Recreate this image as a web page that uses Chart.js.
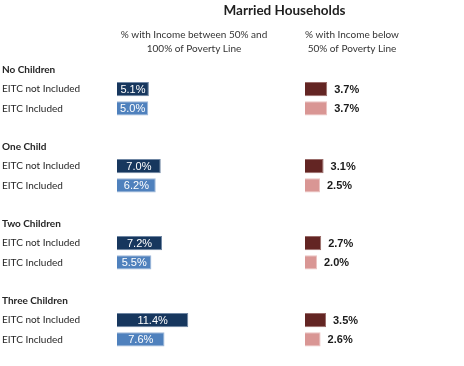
<!DOCTYPE html>
<html>
<head>
<meta charset="utf-8">
<script src="https://cdn.jsdelivr.net/npm/chart.js@4/dist/chart.umd.min.js"></script>
<style>
    html, body { margin: 0; padding: 0; background: #ffffff; }
    canvas { display: block; }
</style>
</head>
<body>
<canvas id="povertyChart" width="464" height="366"></canvas>
<script>
// Chart data
const groups = ['No Children', 'One Child', 'Two Children', 'Three Children'];
const rowLabels = ['EITC not Included', 'EITC Included'];
const between50And100NotIncluded = [5.1, 7.0, 7.2, 11.4];
const between50And100Included = [5.0, 6.2, 5.5, 7.6];
const below50NotIncluded = [3.7, 3.1, 2.7, 3.5];
const below50Included = [3.7, 2.5, 2.0, 2.6];
const columnHeaders = [
    ['% with Income between 50% and', '100% of Poverty Line'],
    ['% with Income below', '50% of Poverty Line']
];

// Build the category rows: group header, two EITC rows, blank spacer
const slotLabels = [];
const headerIndexes = [];
const notIncludedRow = [];
const includedRow = [];
groups.forEach((group, i) => {
    headerIndexes.push(slotLabels.length);
    slotLabels.push(group, rowLabels[0], rowLabels[1]);
    notIncludedRow.push(null, i, null);
    includedRow.push(null, null, i);
    if (i < groups.length - 1) {
        slotLabels.push('');
        notIncludedRow.push(null);
        includedRow.push(null);
    }
});

// Spread a series over the slots it belongs to
function toSlots(values, rowMap) {
    return rowMap.map(idx => (idx === null ? null : values[idx]));
}

// Draws the percent labels on / beside the bars
const valueLabels = {
    id: 'valueLabels',
    afterDatasetsDraw(chart) {
        const ctx = chart.ctx;
        chart.data.datasets.forEach((dataset, i) => {
            const meta = chart.getDatasetMeta(i);
            meta.data.forEach((bar, j) => {
                const value = dataset.data[j];
                if (value === null || value === undefined) return;
                const text = value.toFixed(1) + '%';
                ctx.save();
                ctx.textBaseline = 'middle';
                if (dataset.xAxisID === 'xb') {
                    ctx.font = '11px "Liberation Sans", Arial, sans-serif';
                    ctx.fillStyle = '#ffffff';
                    ctx.textAlign = 'center';
                    ctx.fillText(text, (bar.x + bar.base) / 2, bar.y + 1);
                } else {
                    ctx.font = 'bold 11px "Liberation Sans", Arial, sans-serif';
                    ctx.fillStyle = '#1a1a1a';
                    ctx.textAlign = 'left';
                    ctx.fillText(text, bar.x + 7, bar.y + 1);
                }
                ctx.restore();
            });
        });
    }
};

// Draws the two column headings above the bar columns
const columnHeadings = {
    id: 'columnHeadings',
    afterDraw(chart) {
        const ctx = chart.ctx;
        const top = chart.chartArea.top;
        const centers = [
            chart.scales.xb.getPixelForValue(0) + 77,
            chart.scales.xr.getPixelForValue(0) + 47
        ];
        ctx.save();
        ctx.font = '10px Lato, sans-serif';
        ctx.fillStyle = '#333333';
        ctx.textAlign = 'center';
        ctx.textBaseline = 'middle';
        columnHeaders.forEach((lines, i) => {
            lines.forEach((line, k) => {
                ctx.fillText(line, centers[i], top - 25 + k * 14);
            });
        });
        ctx.restore();
    }
};

const commonBar = {
    grouped: false,
    categoryPercentage: 1,
    barPercentage: 0.74,
    borderWidth: 1
};

new Chart(document.getElementById('povertyChart').getContext('2d'), {
    type: 'bar',
    data: {
        labels: slotLabels,
        datasets: [
            {
                ...commonBar,
                label: 'Between 50% and 100% - EITC not Included',
                xAxisID: 'xb',
                data: toSlots(between50And100NotIncluded, notIncludedRow),
                backgroundColor: '#17375E',
                borderColor: '#6f86a3'
            },
            {
                ...commonBar,
                label: 'Between 50% and 100% - EITC Included',
                xAxisID: 'xb',
                data: toSlots(between50And100Included, includedRow),
                backgroundColor: '#4F81BD',
                borderColor: '#9fb8d8'
            },
            {
                ...commonBar,
                label: 'Below 50% - EITC not Included',
                xAxisID: 'xr',
                data: toSlots(below50NotIncluded, notIncludedRow),
                backgroundColor: '#632523',
                borderColor: '#9a6c6a'
            },
            {
                ...commonBar,
                label: 'Below 50% - EITC Included',
                xAxisID: 'xr',
                data: toSlots(below50Included, includedRow),
                backgroundColor: '#D99694',
                borderColor: '#ebc3c2'
            }
        ]
    },
    options: {
        indexAxis: 'y',
        responsive: false,
        animation: false,
        layout: { padding: { left: 2, right: 12, top: 0, bottom: 17 } },
        plugins: {
            legend: { display: false },
            tooltip: { enabled: false },
            title: {
                display: true,
                text: 'Married Households',
                fullSize: false,
                color: '#1f1f1f',
                font: { family: 'Lato', size: 13.5, weight: 'bold' },
                padding: { top: 3, bottom: 41 }
            }
        },
        scales: {
            y: {
                type: 'category',
                grid: { display: false },
                border: { display: false },
                ticks: {
                    autoSkip: false,
                    crossAlign: 'far',
                    color: '#262626',
                    font: ctx => ({
                        family: 'Lato',
                        size: 10,
                        weight: headerIndexes.includes(ctx.index) ? 'bold' : 'normal'
                    })
                },
                afterFit: scale => { scale.width = 115; }
            },
            // left column scale: 0 sits where the blue bars start
            xb: { type: 'linear', display: false, min: 0, max: 53.6 },
            // right column scale: 0 sits where the red bars start
            xr: { type: 'linear', display: false, min: -31.33, max: 24.5 }
        }
    },
    plugins: [valueLabels, columnHeadings]
});
</script>
</body>
</html>
